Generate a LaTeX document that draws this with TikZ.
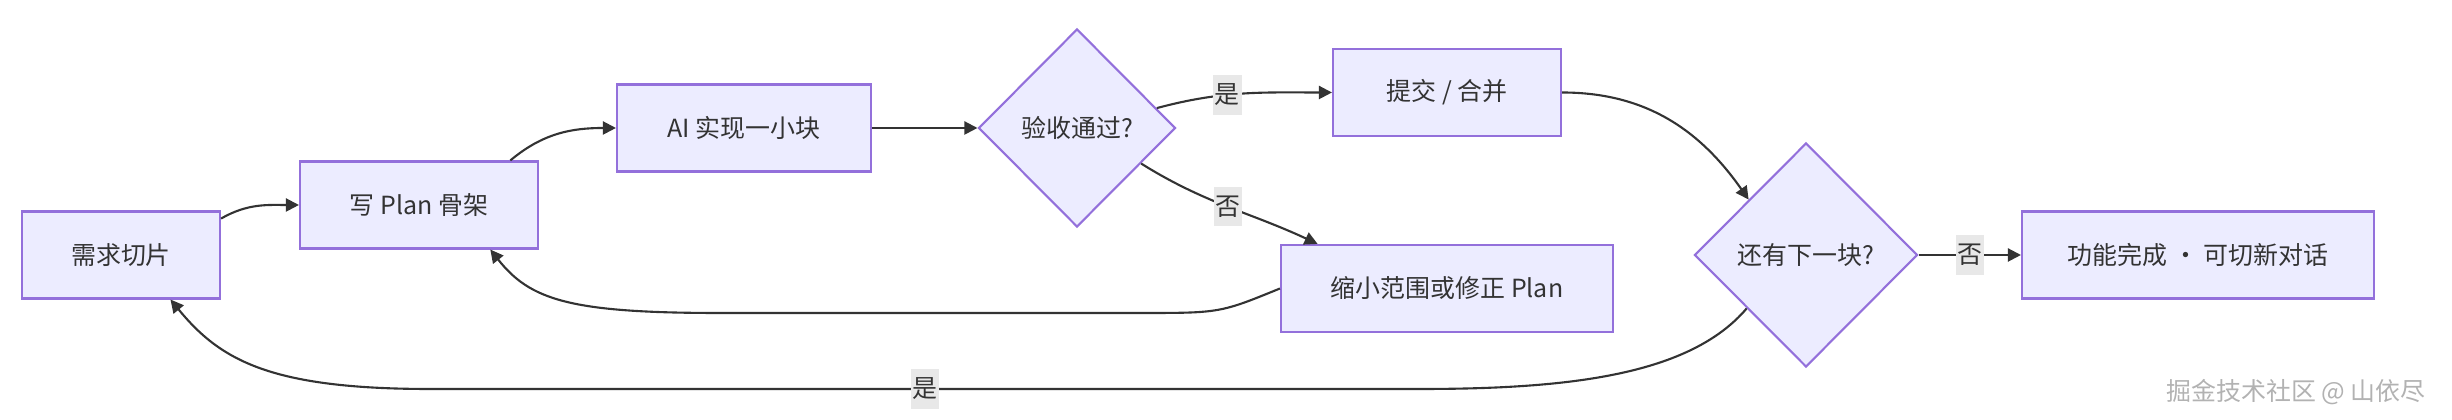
\documentclass[tikz,border=0pt]{standalone}
\usepackage{fontspec}
\setmainfont{Noto Sans CJK SC}
\usepackage{tikz}
\usetikzlibrary{arrows.meta,shapes.geometric,calc}
\definecolor{boxfill}{HTML}{ECECFF}
\definecolor{boxline}{HTML}{9370DB}
\definecolor{inkgray}{HTML}{333333}
\definecolor{lblbg}{HTML}{E8E8E8}

\begin{document}
\begin{tikzpicture}[
  font=\fontsize{7.1}{8.5}\selectfont,
  blk/.style={draw=boxline,fill=boxfill,line width=0.6pt,minimum height=0.87cm,
              text=inkgray,inner sep=0pt},
  dec/.style={blk,diamond,minimum width=1.97cm,minimum height=1.98cm},
  arr/.style={-{Triangle[length=3.7pt,width=3.7pt]},line width=0.6pt,color=inkgray},
  lbl/.style={fill=lblbg,text=inkgray,inner xsep=0.5pt,inner ysep=2.5pt},
]
  \useasboundingbox (0,0) rectangle (24.52,-4.20);

  % Planning
  \node[blk,minimum width=1.98cm] (slice) at (1.21,-2.55) {需求切片};
  \node[blk,minimum width=2.38cm] (plan) at (4.19,-2.05) {写 Plan 骨架};
  \node[blk,minimum width=2.54cm] (impl) at (7.44,-1.28) {AI 实现一小块};

  % Acceptance check
  \node[dec] (check) at (10.77,-1.28) {验收通过?};
  \node[blk,minimum width=2.28cm] (commit) at (14.47,-0.925) {提交 / 合并};
  \node[blk,minimum width=3.32cm] (shrink) at (14.47,-2.885) {缩小范围或修正 Plan};

  % Next chunk
  \node[dec,minimum width=2.23cm,minimum height=2.24cm] (more) at (18.06,-2.55) {还有下一块?};
  \node[blk,minimum width=3.52cm] (done) at (21.98,-2.55) {功能完成 · 可切新对话};

  \draw[arr] (slice.20) to[out=30,in=180] (plan.west);
  \draw[arr] (plan.26) to[out=40,in=180] (impl.west);
  \draw[arr] (impl.east) -- (check.west);
  \draw[arr] (check.14) to[out=15,in=180] node[lbl,pos=0.4] {是} (commit.west);
  \draw[arr] (check.-29) to[out=-32,in=155] node[lbl,pos=0.5] {否} (shrink.161);
  \draw[arr] (commit.east) to[out=0,in=125] (more.136);
  \draw[arr] (more.east) -- node[lbl] {否} (done.west);

  % Loops back
  \draw[arr] (shrink.west) .. controls (12.2,-3.13) .. (11.4,-3.13) -- (7.2,-3.13)
    .. controls (5.7,-3.13) and (5.3,-3.0) .. (plan.-32);
  \draw[arr] (more.222) .. controls (16.9,-3.75) and (15.7,-3.89) .. (14.2,-3.89)
    -- node[lbl] {是} (4.3,-3.89) .. controls (2.7,-3.89) and (2.2,-3.6) .. (slice.-42);

  % Watermark
  \node[text=gray!60,anchor=east] (mark) at (24.38,-3.92) {掘金技术社区 @ 山依尽};
\end{tikzpicture}
\end{document}
